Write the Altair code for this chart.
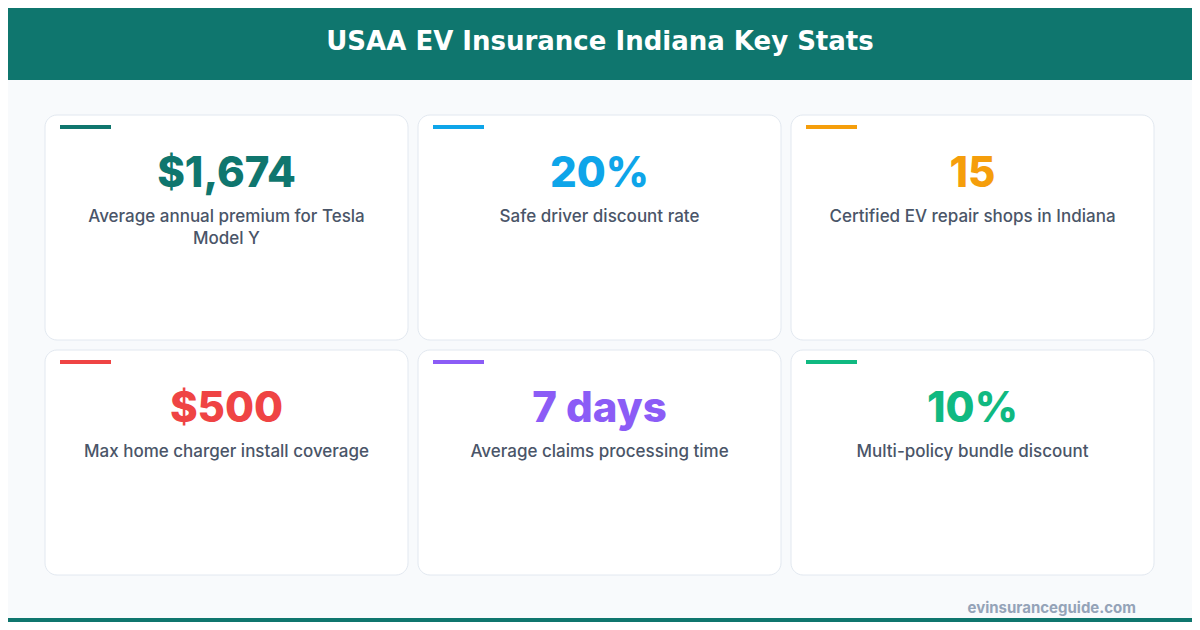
import altair as alt
import pandas as pd

# Key stats shown on the cards
values = ["$1,674", "20%", "15", "$500", "7 days", "10%"]
labels = [
    "Average annual premium for Tesla\nModel Y",
    "Safe driver discount rate",
    "Certified EV repair shops in Indiana",
    "Max home charger install coverage",
    "Average claims processing time",
    "Multi-policy bundle discount",
]
accents = ["#0f766e", "#0ea5e9", "#f59e0b", "#ef4444", "#8b5cf6", "#10b981"]
title = "USAA EV Insurance Indiana Key Stats"
footer = "evinsuranceguide.com"

FONT = "Inter"
HEADER = "#0f766e"

# layout in page pixels; the scale domain takes off the page's 8px margin
CARD_W, CARD_H, GAP = 363, 225, 10
LEFT, TOP = 45, 115

rows = []
for i, (v, lab, c) in enumerate(zip(values, labels, accents)):
    col, row = i % 3, i // 3
    x0 = LEFT + col * (CARD_W + GAP)
    y0 = TOP + row * (CARD_H + GAP)
    rows.append(dict(
        value=v, label=lab, color=c,
        x0=x0, x1=x0 + CARD_W, y0=y0, y1=y0 + CARD_H,
        cx=x0 + CARD_W / 2,
        ax0=x0 + 15, ax1=x0 + 66, ay0=y0 + 10, ay1=y0 + 14,
        vy=y0 + 72, ly=y0 + 107,
    ))
cards = pd.DataFrame(rows)

xs = alt.Scale(domain=[8, 1192], range=[0, 1184], nice=False, zero=False)
ys = alt.Scale(domain=[8, 622], range=[0, 614], nice=False, zero=False)
noax = dict(axis=None)

# header band and thin bottom strip
bands = pd.DataFrame({"x0": [0, 0], "x1": [1200, 1200], "y0": [0, 618], "y1": [80, 630]})
band_layer = alt.Chart(bands).mark_rect(color=HEADER).encode(
    x=alt.X("x0:Q", scale=xs, **noax), x2="x1:Q",
    y=alt.Y("y0:Q", scale=ys, **noax), y2="y1:Q",
)

title_layer = alt.Chart(pd.DataFrame({"t": [title], "x": [600], "y": [50]})).mark_text(
    font="DejaVu Sans", fontSize=26, fontWeight="bold", color="white",
    baseline="alphabetic", align="center",
).encode(x=alt.X("x:Q", scale=xs, **noax), y=alt.Y("y:Q", scale=ys, **noax), text="t:N")

card_layer = alt.Chart(cards).mark_rect(
    fill="white", stroke="#e2e8f0", strokeWidth=1, cornerRadius=12
).encode(
    x=alt.X("x0:Q", scale=xs, **noax), x2="x1:Q",
    y=alt.Y("y0:Q", scale=ys, **noax), y2="y1:Q",
)

accent_layer = alt.Chart(cards).mark_rect().encode(
    x=alt.X("ax0:Q", scale=xs, **noax), x2="ax1:Q",
    y=alt.Y("ay0:Q", scale=ys, **noax), y2="ay1:Q",
    color=alt.Color("color:N", scale=None),
)

value_layer = alt.Chart(cards).mark_text(
    font=FONT, fontSize=42, fontWeight=800, baseline="alphabetic", align="center"
).encode(
    x=alt.X("cx:Q", scale=xs, **noax), y=alt.Y("vy:Q", scale=ys, **noax),
    text="value:N", color=alt.Color("color:N", scale=None),
)

label_layer = alt.Chart(cards).mark_text(
    font=FONT, fontSize=17, fontWeight=500, color="#4a5568",
    baseline="alphabetic", align="center", lineBreak="\n", lineHeight=22,
).encode(
    x=alt.X("cx:Q", scale=xs, **noax), y=alt.Y("ly:Q", scale=ys, **noax),
    text="label:N",
)

footer_layer = alt.Chart(pd.DataFrame({"t": [footer], "x": [1136], "y": [613]})).mark_text(
    font=FONT, fontSize=15, fontWeight="bold", color="#94a3b8", baseline="alphabetic", align="right"
).encode(x=alt.X("x:Q", scale=xs, **noax), y=alt.Y("y:Q", scale=ys, **noax), text="t:N")

chart = alt.layer(
    band_layer, title_layer, card_layer, accent_layer, value_layer, label_layer, footer_layer
).properties(
    width=1184, height=614, padding=0, autosize=alt.AutoSizeParams(type="none")
).configure(background="#f8fafc").configure_view(stroke=None)

chart.save("out.html", embed_options={"renderer": "svg", "actions": False})
